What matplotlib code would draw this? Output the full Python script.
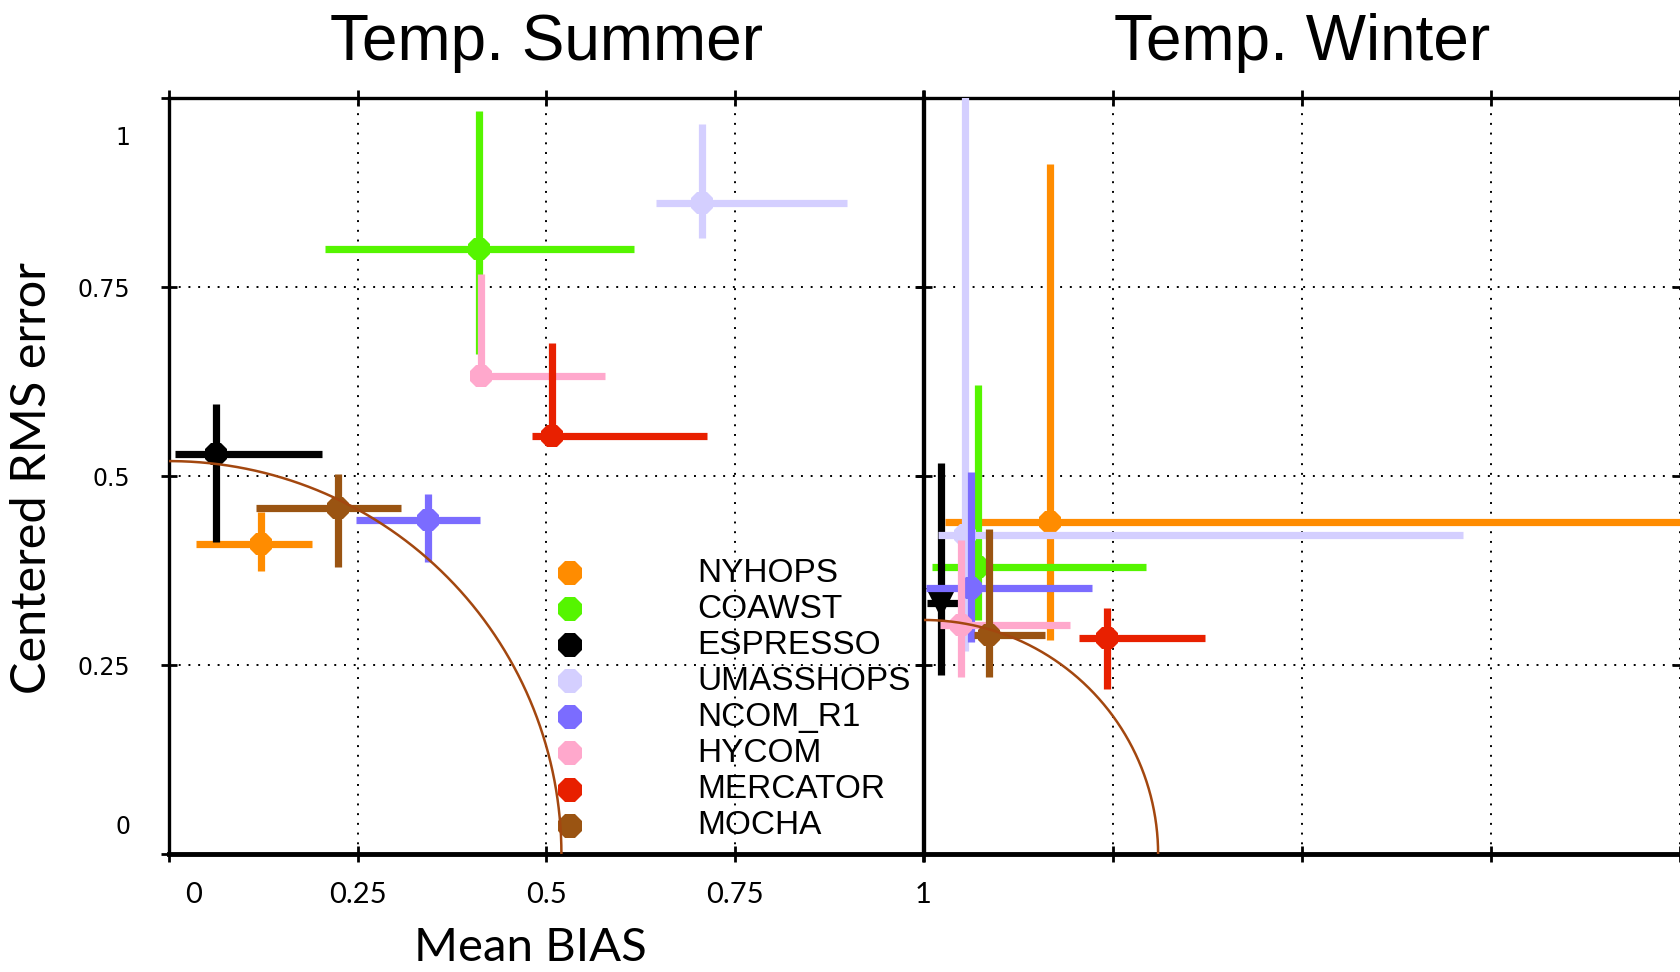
import numpy as np
import matplotlib
matplotlib.use("Agg")
import matplotlib.pyplot as plt
import matplotlib.transforms as mtransforms

# ---- data ----
models = ["NYHOPS", "COAWST", "ESPRESSO", "UMASSHOPS", "NCOM_R1", "HYCOM", "MERCATOR", "MOCHA"]
colors = ["#FF8C00", "#55F500", "#000000", "#D4CFFF", "#7B6CFF", "#FFA8CC", "#E82000", "#9A5412"]

# summer: centre and error-bar ends
sum_x   = [0.122, 0.4106, 0.062, 0.706, 0.343, 0.4133, 0.508, 0.224]
sum_xlo = [0.036, 0.2066, 0.008, 0.645, 0.248, 0.4133, 0.4813, 0.115]
sum_xhi = [0.189, 0.6166, 0.203, 0.899, 0.412, 0.578, 0.7133, 0.307]
sum_y   = [0.410, 0.800, 0.529, 0.861, 0.442, 0.6325, 0.5536, 0.458]
sum_ylo = [0.375, 0.6616, 0.413, 0.8146, 0.387, 0.6325, 0.5536, 0.380]
sum_yhi = [0.453, 0.983, 0.595, 0.966, 0.477, 0.767, 0.6757, 0.503]

# winter
win_x   = [0.167, 0.0715, 0.0235, 0.055, 0.062, 0.049, 0.2427, 0.087]
win_xlo = [0.028, 0.0107, 0.005, 0.0195, 0.003, 0.0217, 0.205, 0.0668]
win_xhi = [1.05, 0.2935, 0.045, 0.713, 0.222, 0.194, 0.3717, 0.161]
win_y   = [0.440, 0.380, 0.333, 0.422, 0.352, 0.303, 0.286, 0.290]
win_ylo = [0.2835, 0.310, 0.237, 0.269, 0.281, 0.235, 0.2184, 0.235]
win_yhi = [0.913, 0.620, 0.517, 1.05, 0.506, 0.416, 0.3255, 0.430]
win_marker = ["8", "8", "v", "8", "8", "8", "8", "8"]

radius_summer = 0.52
radius_winter = 0.31

ticks = [0, 0.25, 0.5, 0.75, 1]
tick_labels = ["0", "0.25", "0.5", "0.75", "1"]

fig = plt.figure(figsize=(16.8, 9.72), dpi=100)
ax1 = fig.add_axes([0.1007, 0.1209, 0.4490, 0.7783])
ax2 = fig.add_axes([0.5498, 0.1209, 0.4502, 0.7783])

arc_col = "#A3470F"


def draw_panel(ax, xs, xlo, xhi, ys, ylo, yhi, markers, r):
    for i in range(len(models)):
        xe = [[xs[i] - xlo[i]], [xhi[i] - xs[i]]]
        ye = [[ys[i] - ylo[i]], [yhi[i] - ys[i]]]
        ms = 22 if markers[i] == "v" else 17
        ax.errorbar([xs[i]], [ys[i]], xerr=xe, yerr=ye, fmt=markers[i], color=colors[i],
                    ecolor=colors[i], elinewidth=5.2, capsize=0, ms=ms, mew=0, zorder=3 + i * 0.1)
    t = np.linspace(0, np.pi / 2, 200)
    ax.plot(r * np.cos(t), r * np.sin(t), color=arc_col, lw=1.8, zorder=4)
    ax.set_xlim(0, 1)
    ax.set_ylim(0, 1)
    ax.set_axisbelow(False)
    ax.grid(True, color="black", lw=1.4, linestyle=(0, (1, 4)), zorder=2.5)
    for s in ax.spines.values():
        s.set_linewidth(2.4)
    ax.spines["bottom"].set_linewidth(3.5)
    ax.tick_params(direction="inout", length=12, width=2, top=True, right=True)


draw_panel(ax1, sum_x, sum_xlo, sum_xhi, sum_y, sum_ylo, sum_yhi, ["8"] * 8, radius_summer)
draw_panel(ax2, win_x, win_xlo, win_xhi, win_y, win_ylo, win_yhi, win_marker, radius_winter)

ax1.set_xticks(ticks)
ax1.set_xticklabels(tick_labels, fontfamily="Lato", fontsize=21)
ax1.set_yticks(ticks)
ax1.set_yticklabels(tick_labels, fontfamily="DejaVu Sans", fontsize=17)
ax1.tick_params(axis="x", pad=14)
ax1.tick_params(axis="y", pad=22)

ax2.set_xticks(ticks)
ax2.set_yticks(ticks)
ax2.set_xticklabels([])
ax2.set_yticklabels([])
ax2.spines["right"].set_visible(False)

# nudge the end labels like in the original
dpi_tr = fig.dpi_scale_trans
xt = ax1.xaxis.get_major_ticks()
xt[0].label1.set_transform(xt[0].label1.get_transform() + mtransforms.ScaledTranslation(0.24, 0, dpi_tr))
yt = ax1.yaxis.get_major_ticks()
yt[0].label1.set_transform(yt[0].label1.get_transform() + mtransforms.ScaledTranslation(0, 0.30, dpi_tr))
yt[-1].label1.set_transform(yt[-1].label1.get_transform() + mtransforms.ScaledTranslation(0, -0.38, dpi_tr))

# titles
ax1.text(0.5, 1.050, "Temp. Summer", transform=ax1.transAxes, ha="center", va="baseline",
         fontfamily="Liberation Sans", fontsize=46)
ax2.text(0.5, 1.050, "Temp. Winter", transform=ax2.transAxes, ha="center", va="baseline",
         fontfamily="Liberation Sans", fontsize=46)

fig.text(32 / 1680, 1 - 478 / 972, "Centered RMS error", rotation=90, ha="center", va="center",
         fontfamily="Lato", fontsize=35)
fig.text(530 / 1680, 1 - 948 / 972, "Mean BIAS", ha="center", va="center",
         fontfamily="Lato", fontsize=34)

# legend drawn by hand inside the summer panel
leg_y = 0.372 - 0.0477 * np.arange(len(models))
for i, name in enumerate(models):
    ax1.plot([0.531], [leg_y[i]], marker="8", ms=19, mew=0, color=colors[i],
             transform=ax1.transAxes, zorder=3, clip_on=False)
    ax1.text(0.700, leg_y[i], name, transform=ax1.transAxes, ha="left", va="center",
             fontfamily="Liberation Sans", fontsize=24, zorder=1)

fig.savefig("out.png", dpi=100)
